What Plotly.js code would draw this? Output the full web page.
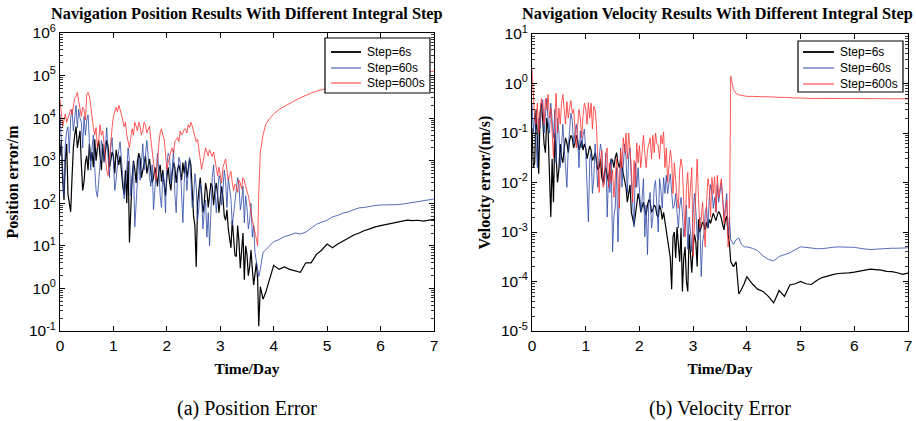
<!DOCTYPE html>
<html><head><meta charset="utf-8">
<script src="https://cdn.plot.ly/plotly-3.0.1.min.js"></script>
<style>html,body{margin:0;padding:0;background:#fff}#chart{width:916px;height:421px}</style>
</head><body><div id="chart"></div>
<script>
// Time in days (shared grid)
const time = [0,0.025,0.05,0.075,0.1,0.125,0.15,0.175,0.2,0.225,0.25,0.275,0.3,0.325,0.35,0.375,0.4,0.425,0.45,0.475,
0.5,0.525,0.55,0.575,0.6,0.625,0.65,0.675,0.7,0.725,0.75,0.775,0.8,0.825,0.85,0.875,0.9,0.925,0.95,0.975,
1,1.025,1.05,1.075,1.1,1.125,1.15,1.175,1.2,1.225,1.25,1.275,1.3,1.325,1.35,1.375,1.4,1.425,1.45,1.475,
1.5,1.525,1.55,1.575,1.6,1.625,1.65,1.675,1.7,1.725,1.75,1.775,1.8,1.825,1.85,1.875,1.9,1.925,1.95,1.975,
2,2.025,2.05,2.075,2.1,2.125,2.15,2.175,2.2,2.225,2.25,2.275,2.3,2.325,2.35,2.375,2.4,2.425,2.45,2.475,
2.5,2.525,2.55,2.575,2.6,2.625,2.65,2.675,2.7,2.725,2.75,2.775,2.8,2.825,2.85,2.875,2.9,2.925,2.95,2.975,
3,3.025,3.05,3.075,3.1,3.125,3.15,3.175,3.2,3.225,3.25,3.275,3.3,3.325,3.35,3.375,3.4,3.425,3.45,3.475,
3.5,3.525,3.55,3.575,3.6,3.625,3.65,3.675,3.7,
3.72,3.75,3.8,3.85,3.9,3.95,4,
4.1,4.2,4.3,4.4,4.5,4.6,4.7,4.8,4.9,5,5.1,5.2,5.3,5.4,5.5,5.6,5.7,5.8,5.9,6,6.1,6.2,6.3,6.4,6.5,6.6,6.7,6.8,6.9,7];

// Position error (m)
const posStep6 = [1300,3000,350,120,1000,2500,160,90,63,400,2000,4000,6300,2000,3200,5000,800,200,320,900,
1300,600,2500,1000,1600,700,3200,1000,2000,3000,1300,600,2500,1000,1600,3000,2200,700,1000,1600,
1300,500,1800,1200,800,1300,500,250,160,600,100,1000,12,100,400,1000,630,300,1000,1500,
1100,400,630,900,1300,500,800,1100,560,300,400,700,500,250,560,800,320,600,280,150,
400,700,320,200,500,900,700,300,630,800,560,350,900,500,1000,400,630,1100,800,250,
50,30,3.2,100,250,400,160,60,100,300,200,80,160,300,250,90,200,300,160,60,
126,250,140,50,40,70,25,15,9,40,16,6,5.6,30,12.6,3,8,20,1.6,10,
6.3,2,3.2,8,2.8,1.2,2.2,4,1.6,
0.13,1.1,0.56,0.8,1.26,2.2,3.5,
2.8,3.2,2.8,2.6,2.4,4,4,6.3,8,11,9,11,13,15,18,20,23,25,28,30,32,34,36,38,40,39,40,38,40,42];
const posStep60 = [12600,3000,630,150,2500,5000,6300,1500,10000,16000,5000,12000,20000,6000,16000,10000,8000,2000,11000,4000,
9000,12000,2500,600,2000,4000,700,200,140,300,800,3000,2000,900,3200,6000,1260,400,2000,3500,
1000,200,350,900,1800,2800,1260,400,126,250,630,2000,1000,150,320,900,28,100,400,1200,
350,900,2500,600,1600,3000,1260,400,250,800,70,200,400,1500,630,150,80,500,320,60,
800,1500,1260,300,630,1800,160,60,400,1200,900,200,35,300,1000,200,630,1200,350,80,
126,500,250,40,80,300,200,25,63,120,16,60,10,50,400,800,250,60,160,450,
350,90,200,600,320,80,400,180,126,30,56,120,250,400,280,70,112,250,35,150,
80,25,40,100,16,30,7,4,2.2,
1.9,2.8,7,8,9.3,10.7,12.6,
14,16.6,17.8,20,19,21,26,32,36,40,48,52,59,63,71,78,80,85,89,91,91,93,93,95,100,105,110,115,120,126];
const posStep600 = [28000,12000,6300,9000,12600,8000,10000,14000,16000,12000,22000,30000,32000,40000,25000,15000,11000,18000,16000,9000,
35000,40000,32000,20000,10000,6000,4000,6000,2000,3000,7000,4000,5000,2500,1260,600,450,1200,3200,6000,
11000,15000,18000,14000,20000,16000,12600,9000,6300,8000,4000,2500,2000,3500,5600,4000,8000,6500,5000,8000,
6300,4000,5000,8000,7000,4500,5600,6500,3200,1500,800,500,350,1200,2500,4500,5600,4000,3200,1500,
630,900,1260,1600,2000,1500,2800,3200,3500,2800,5000,4000,4500,5500,5600,4500,7000,6000,8000,6500,
5000,3500,2800,3200,2000,1000,630,900,1260,2000,1600,1300,1800,1500,1260,1600,1000,600,450,700,
400,300,700,900,1100,600,350,450,560,300,200,280,250,180,350,300,220,400,350,250,
200,150,100,60,40,30,20,14,10,
175,1600,4000,7000,9000,11000,12600,
16000,19000,22000,26000,30000,35000,39000,43000,47000,51000,55000,59000,63000,68000,71000,74000,78000,81000,85000,89000,93000,98000,102000,105000,110000,112000,117000,120000,123000,126000];

// Velocity error (m/s)
const velStep6 = [0.126,0.02,0.025,0.3,0.08,0.015,0.25,0.4,0.18,0.06,0.04,0.2,0.11,0.01,0.002,0.03,0.004,0.1,0.04,0.01,
0.018,0.06,0.032,0.025,0.05,0.08,0.063,0.04,0.07,0.09,0.08,0.05,0.063,0.09,0.07,0.045,0.056,0.07,0.045,0.06,
0.05,0.03,0.04,0.055,0.045,0.028,0.032,0.04,0.028,0.018,0.02,0.03,0.0126,0.01,0.016,0.02,0.014,0.01,0.022,0.03,
0.028,0.02,0.032,0.04,0.025,0.02,0.028,0.02,0.016,0.012,0.008,0.004,0.0056,0.009,0.0025,0.0018,0.0014,0.0022,0.004,0.006,
0.0045,0.0025,0.0032,0.004,0.0028,0.0022,0.0035,0.0045,0.004,0.0025,0.0028,0.0035,0.0032,0.0022,0.002,0.0035,0.0028,0.0018,0.0025,0.0016,
0.00126,0.0007,0.0005,0.0003,0.00007,0.0008,0.001,0.0003,0.00126,0.0006,0.00025,0.0012,0.000063,0.0003,0.0005,0.0001,0.000063,0.0009,0.00032,0.00015,
0.0005,0.0009,0.00063,0.0002,0.0018,0.001,0.00126,0.0016,0.0014,0.0011,0.0016,0.0012,0.0018,0.0015,0.0019,0.0024,0.002,0.0017,0.0022,0.0026,
0.0023,0.0019,0.0014,0.0011,0.0018,0.0021,0.0009,0.0006,0.00025,
0.00022,0.0002,0.00025,0.000056,0.00007,0.00009,0.000126,
0.00009,0.00007,0.000063,0.00005,0.000037,0.000066,0.00005,0.000085,0.00009,0.0001,0.00009,0.000087,0.000105,0.00012,0.00013,0.000138,0.000145,0.00015,0.00015,0.000155,0.00016,0.00017,0.000178,0.000174,0.00017,0.00016,0.000158,0.00015,0.00014,0.000148];
const velStep60 = [0.4,0.1,0.25,0.05,0.02,0.2,0.126,0.3,0.47,0.1,0.25,0.5,0.18,0.1,0.4,0.15,0.08,0.3,0.025,0.2,
0.11,0.02,0.05,0.15,0.05,0.02,0.008,0.05,0.14,0.25,0.18,0.06,0.1,0.15,0.08,0.02,0.11,0.05,0.09,0.12,
0.045,0.01,0.0016,0.03,0.04,0.006,0.0126,0.06,0.025,0.008,0.032,0.06,0.04,0.009,0.011,0.04,0.002,0.015,0.0063,0.03,
0.0004,0.002,0.0032,0.02,0.00063,0.01,0.05,0.008,0.018,0.06,0.032,0.006,0.035,0.05,0.011,0.004,0.00126,0.025,0.008,0.02,
0.008,0.0025,0.0045,0.012,0.0008,0.0035,0.00035,0.004,0.0063,0.0012,0.002,0.008,0.011,0.0025,0.001,0.012,0.007,0.003,0.0126,0.006,
0.014,0.006,0.011,0.015,0.0063,0.003,0.0035,0.006,0.0025,0.0012,0.0032,0.005,0.0025,0.0008,0.00126,0.0035,0.00045,0.002,0.001,0.0004,
0.0025,0.006,0.0028,0.0008,0.0007,0.002,0.000126,0.0006,0.0009,0.0025,0.0032,0.0012,0.005,0.009,0.007,0.003,0.005,0.0025,0.009,0.004,
0.0063,0.01,0.005,0.002,0.0032,0.006,0.0009,0.002,0.0007,
0.00063,0.00056,0.0007,0.00076,0.00056,0.0005,0.0005,
0.00047,0.00042,0.00033,0.00028,0.00026,0.00032,0.00035,0.00038,0.00044,0.0005,0.00049,0.00047,0.00046,0.00046,0.00048,0.00049,0.0005,0.0005,0.0005,0.00049,0.00047,0.00045,0.00044,0.00045,0.00046,0.00046,0.00047,0.00047,0.00048,0.00048];
const velStep600 = [1.9,0.5,0.2,0.15,0.4,0.1,0.25,0.5,0.35,0.15,0.5,0.3,0.6,0.2,0.32,0.1,0.032,0.2,0.63,0.1,
0.32,0.15,0.4,0.6,0.28,0.15,0.43,0.2,0.32,0.45,0.25,0.3,0.126,0.05,0.14,0.3,0.2,0.08,0.22,0.4,
0.32,0.15,0.41,0.2,0.4,0.12,0.35,0.3,0.14,0.02,0.0063,0.03,0.045,0.008,0.01,0.04,0.05,0.008,0.025,0.01,
0.018,0.005,0.0126,0.03,0.014,0.003,0.045,0.02,0.08,0.04,0.1,0.03,0.1,0.05,0.02,0.004,0.028,0.008,0.063,0.025,
0.056,0.02,0.05,0.09,0.04,0.02,0.045,0.06,0.08,0.03,0.09,0.04,0.1,0.06,0.056,0.03,0.09,0.06,0.105,0.02,
0.05,0.01,0.02,0.045,0.028,0.006,0.025,0.01,0.005,0.003,0.018,0.03,0.019,0.004,0.0008,0.008,0.016,0.003,0.01,0.02,
0.00032,0.002,0.0126,0.03,0.0045,0.0012,0.0018,0.004,0.00126,0.0005,0.004,0.012,0.008,0.002,0.0126,0.006,0.013,0.0025,0.014,0.005,
0.008,0.012,0.0045,0.0015,0.0025,0.0045,0.0005,0.0008,1.4,
1.12,0.76,0.63,0.59,0.575,0.56,0.55,
0.55,0.54,0.54,0.54,0.525,0.525,0.525,0.51,0.51,0.51,0.5,0.5,0.5,0.5,0.5,0.5,0.5,0.5,0.5,0.5,0.49,0.49,0.49,0.49,0.49,0.49,0.49,0.49,0.49,0.49];

const seriesNames = ['Step=6s','Step=60s','Step=600s'];
const timeTicks = [0,1,2,3,4,5,6,7];
const posTickVals = [1e-1,1,10,100,1e3,1e4,1e5,1e6];
const posTickText = ['10<sup>-1</sup>','10<sup>0</sup>','10<sup>1</sup>','10<sup>2</sup>','10<sup>3</sup>','10<sup>4</sup>','10<sup>5</sup>','10<sup>6</sup>'];
const velTickVals = [1e-5,1e-4,1e-3,1e-2,1e-1,1,10];
const velTickText = ['10<sup>-5</sup>','10<sup>-4</sup>','10<sup>-3</sup>','10<sup>-2</sup>','10<sup>-1</sup>','10<sup>0</sup>','10<sup>1</sup>'];

const colors = ['#000000','#2a48a6','#ff2e2e'];
const widths = [1.2,0.8,0.8];

function mk(y, i, xa, ya){
  return {x: time, y: y, type:'scatter', mode:'lines', name: seriesNames[i], showlegend:false,
    xaxis: xa, yaxis: ya, line:{color:colors[i], width:widths[i]}};
}
const data = [
  mk(posStep6,0,'x','y'), mk(posStep60,1,'x','y'), mk(posStep600,2,'x','y'),
  mk(velStep6,0,'x2','y2'), mk(velStep60,1,'x2','y2'), mk(velStep600,2,'x2','y2')
];

const sans = '"Liberation Sans", Arial, sans-serif';
const serif = '"Liberation Serif", "Times New Roman", serif';
const tickFont = {family:sans, size:15.5, color:'#000'};
const base = {showline:true, linecolor:'#000', linewidth:1, mirror:'ticks', ticks:'inside', ticklen:5,
  tickwidth:1, tickcolor:'#000', showgrid:false, zeroline:false, tickfont:tickFont};
const minorLog = {dtick:'D1', ticks:'inside', ticklen:3, tickwidth:0.8, tickcolor:'#000', showgrid:false};
const xTitle = {text:'<b>Time/Day</b>', font:{family:serif, size:15.5, color:'#000'}, standoff:10};

// Legend boxes drawn in paper coordinates (left panel, right panel)
const legendBoxes = [
  {x0:0.3125, x1:0.4363, y0:0.7987, y1:0.9832, lx0:0.3196, lx1:0.3550, tx:0.3597, rows:[0.9362,0.8826,0.8322]},
  {x0:0.8703, x1:0.9941, y0:0.8020, y1:0.9732, lx0:0.8762, lx1:0.9127, tx:0.9175, rows:[0.9362,0.8826,0.8289]}
];
const shapes = [];
const annotations = [];
legendBoxes.forEach(b => {
  shapes.push({type:'rect', xref:'paper', yref:'paper', x0:b.x0, x1:b.x1, y0:b.y0, y1:b.y1,
    fillcolor:'#fff', line:{color:'#000', width:1.2}, layer:'above'});
  seriesNames.forEach((n,i) => {
    shapes.push({type:'line', xref:'paper', yref:'paper', x0:b.lx0, x1:b.lx1, y0:b.rows[i], y1:b.rows[i],
      line:{color:colors[i], width:i===0?1.8:1}, layer:'above'});
    annotations.push({text:n, xref:'paper', yref:'paper', x:b.tx, y:b.rows[i], xanchor:'left', yanchor:'middle',
      showarrow:false, font:{family:sans, size:12, color:'#000'}});
  });
});
annotations.push(
  {text:'<b>Navigation Position Results With Different Integral Step</b>', xref:'paper', yref:'paper', x:0.2205, y:1.0638, xanchor:'center', yanchor:'middle', showarrow:false, font:{family:serif, size:16.3, color:'#000'}},
  {text:'<b>Navigation Velocity Results With Different Integral Step</b>', xref:'paper', yref:'paper', x:0.7748, y:1.0638, xanchor:'center', yanchor:'middle', showarrow:false, font:{family:serif, size:16.3, color:'#000'}},
  {text:'(a) Position Error', xref:'paper', yref:'paper', x:0.2205, y:-0.2584, xanchor:'center', yanchor:'middle', showarrow:false, font:{family:serif, size:20, color:'#000'}},
  {text:'(b) Velocity Error', xref:'paper', yref:'paper', x:0.7783, y:-0.2584, xanchor:'center', yanchor:'middle', showarrow:false, font:{family:serif, size:20, color:'#000'}}
);

const layout = {
  width:916, height:421, paper_bgcolor:'#fff', plot_bgcolor:'#fff',
  margin:{l:60, r:8, t:33, b:90},
  showlegend:false,
  xaxis: Object.assign({}, base, {domain:[0,0.4410], range:[0,7], tickmode:'array', tickvals:timeTicks, anchor:'y', title:xTitle}),
  yaxis: Object.assign({}, base, {domain:[0,1], type:'log', range:[-1,6], tickmode:'array', tickvals:posTickVals, ticktext:posTickText, anchor:'x', minor:minorLog,
    title:{text:'<b>Position error/m</b>', font:{family:serif, size:16, color:'#000'}, standoff:6}}),
  xaxis2: Object.assign({}, base, {domain:[0.5566,1], range:[0,7], tickmode:'array', tickvals:timeTicks, anchor:'y2', title:xTitle}),
  yaxis2: Object.assign({}, base, {domain:[0,0.9966], type:'log', range:[-5,1], tickmode:'array', tickvals:velTickVals, ticktext:velTickText, anchor:'x2', minor:minorLog,
    title:{text:'<b>Velocity error/(m/s)</b>', font:{family:serif, size:16, color:'#000'}, standoff:6}}),
  shapes: shapes,
  annotations: annotations
};
Plotly.newPlot('chart', data, layout, {displayModeBar:false, staticPlot:true});
</script>
</body></html>
